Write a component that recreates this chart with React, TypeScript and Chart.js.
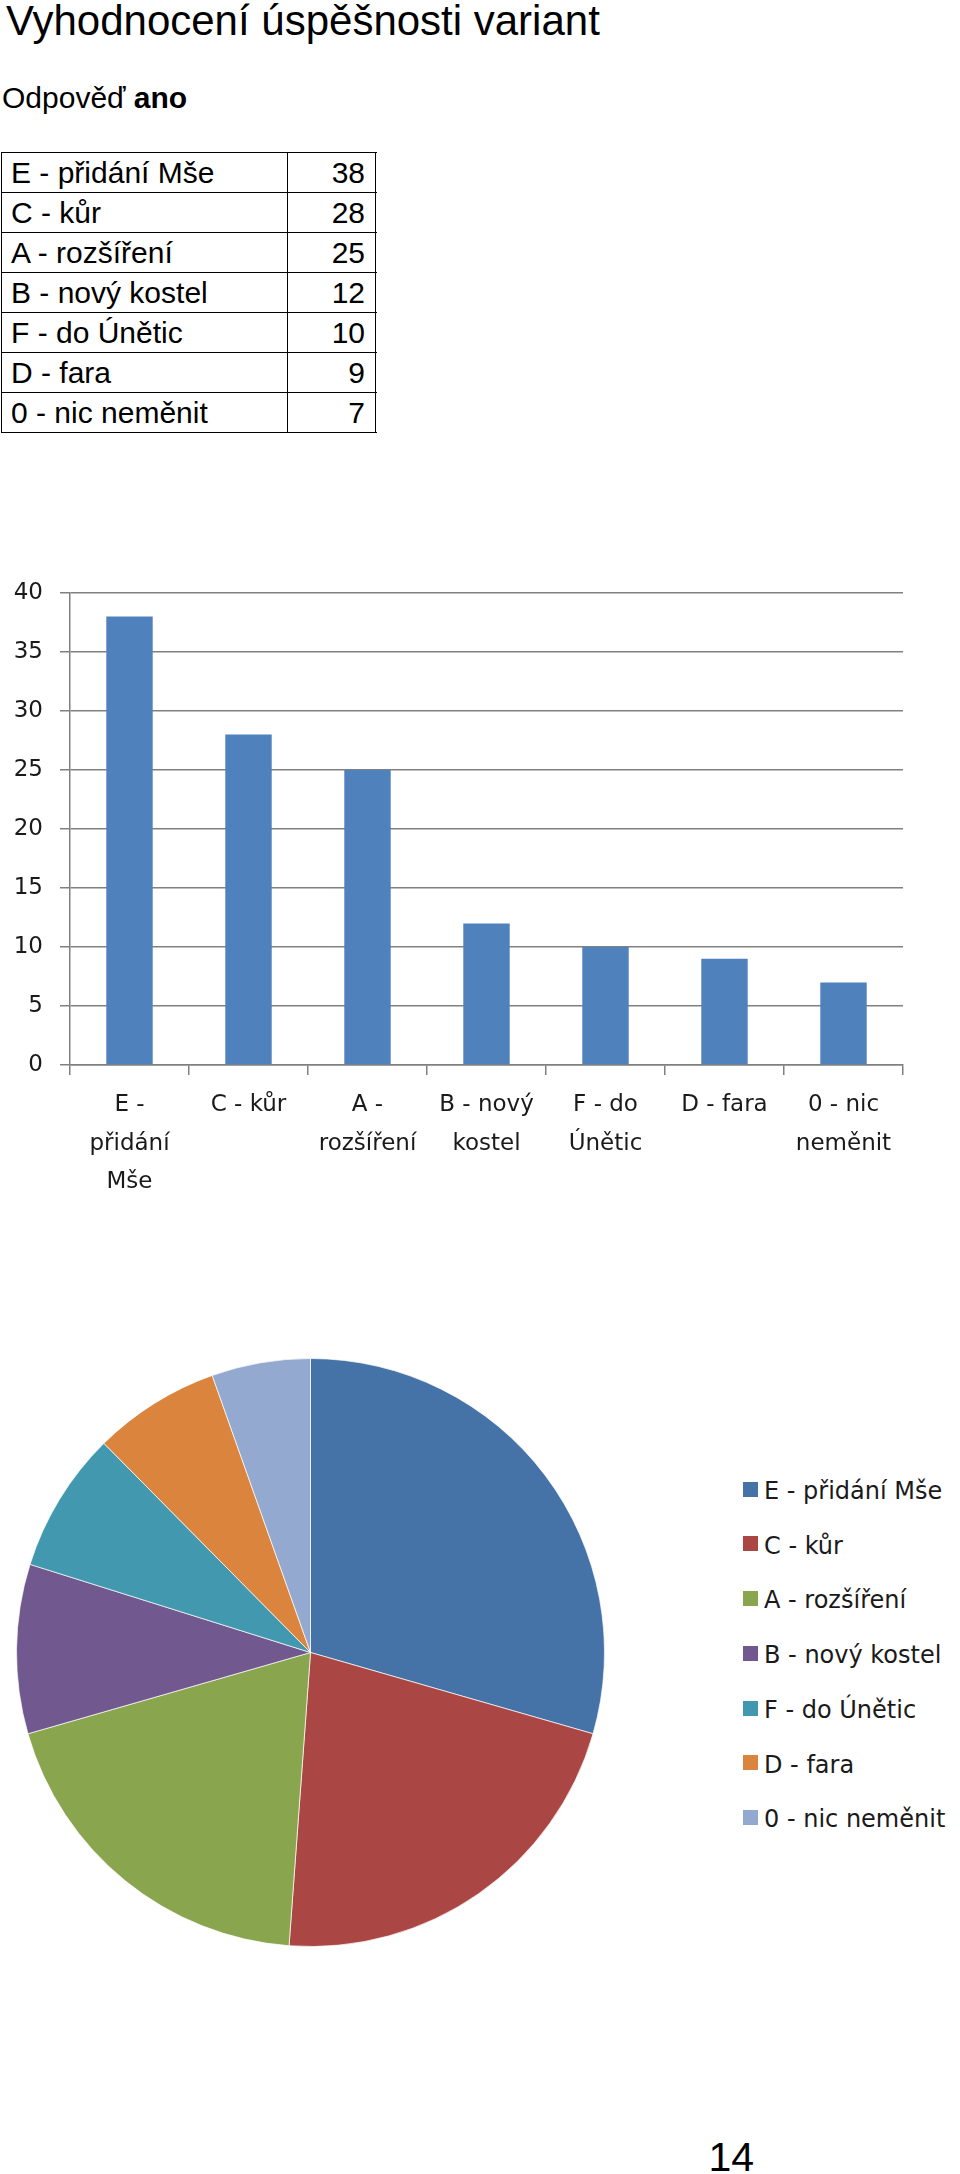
import React, { useEffect, useRef } from "react";
import { Chart, registerables } from "chart.js";

Chart.register(...registerables);

// ---------- data ----------
const TITLE = "Vyhodnocení úspěšnosti variant";
const SUBTITLE_PREFIX = "Odpověď ";
const SUBTITLE_BOLD = "ano";
const PAGE_NUMBER = "14";

const categories = [
  "E - přidání Mše",
  "C - kůr",
  "A - rozšíření",
  "B - nový kostel",
  "F - do Únětic",
  "D - fara",
  "0 - nic neměnit",
];
const values = [38, 28, 25, 12, 10, 9, 7];
const axisLabelLines = [
  ["E -", "přidání", "Mše"],
  ["C - kůr"],
  ["A -", "rozšíření"],
  ["B - nový", "kostel"],
  ["F - do", "Únětic"],
  ["D - fara"],
  ["0 - nic", "neměnit"],
];
const yMin = 0;
const yMax = 40;
const yStep = 5;

const barColor = "#4F81BD";
const pieColors = ["#4572A7", "#AA4643", "#89A54E", "#71588F", "#4198AF", "#DB843D", "#93A9CF"];

// ---------- component ----------
const SANS = '"Liberation Sans", Arial, Helvetica, sans-serif';
const CHART_FONT = '"DejaVu Sans", "Noto Sans", sans-serif';

export default function App() {
  const barRef = useRef<HTMLCanvasElement | null>(null);
  const pieRef = useRef<HTMLCanvasElement | null>(null);

  useEffect(() => {
    const grid = "#808080";
    const bar = new Chart(barRef.current as HTMLCanvasElement, {
      type: "bar",
      data: {
        labels: categories,
        datasets: [
          {
            data: values,
            backgroundColor: barColor,
            borderWidth: 0,
            barPercentage: 0.39,
            categoryPercentage: 1,
          },
        ],
      },
      options: {
        responsive: false,
        animation: false,
        devicePixelRatio: 1,
        layout: { padding: { top: 23, right: 57, left: 0, bottom: 0 } },
        plugins: { legend: { display: false }, tooltip: { enabled: false }, title: { display: false } },
        scales: {
          x: {
            grid: {
              display: true,
              drawOnChartArea: false,
              drawTicks: true,
              tickLength: 10,
              color: grid,
              lineWidth: 1.5,
              offset: true,
            },
            border: { display: true, color: grid, width: 1.5 },
            ticks: {
              autoSkip: false,
              maxRotation: 0,
              minRotation: 0,
              padding: 11,
              color: "#1a1a1a",
              font: { family: CHART_FONT, size: 23, lineHeight: 38.5 / 23 },
              callback: (_v: any, i: number) => axisLabelLines[i],
            },
            afterFit: (scale: any) => {
              scale.height = 145;
              scale.paddingLeft = 0;
              scale.paddingRight = 0;
            },
          },
          y: {
            min: yMin,
            max: yMax,
            grid: {
              color: grid,
              lineWidth: 1.5,
              drawTicks: true,
              tickLength: 10,
            },
            border: { display: true, color: grid, width: 1.5 },
            ticks: {
              stepSize: yStep,
              padding: 17,
              color: "#1a1a1a",
              font: { family: CHART_FONT, size: 23 },
            },
            afterFit: (scale: any) => {
              scale.width = 70;
              scale.paddingTop = 0;
              scale.paddingBottom = 0;
            },
          },
        },
      },
    });

    const pie = new Chart(pieRef.current as HTMLCanvasElement, {
      type: "pie",
      data: {
        labels: categories,
        datasets: [
          {
            data: values,
            backgroundColor: pieColors,
            borderColor: "rgba(255,255,255,0.7)",
            borderWidth: 1,
          },
        ],
      },
      options: {
        responsive: false,
        animation: false,
        devicePixelRatio: 1,
        layout: { padding: 0 },
        plugins: { legend: { display: false }, tooltip: { enabled: false } },
      },
    });

    return () => {
      bar.destroy();
      pie.destroy();
    };
  }, []);

  const rowTop = (i: number) => 152 + 40 * i;

  return (
    <div
      style={{
        position: "absolute",
        left: 0,
        top: 0,
        width: 960,
        height: 2174,
        overflow: "hidden",
        background: "#fff",
        color: "#000",
        fontFamily: SANS,
      }}
    >
      <div style={{ position: "absolute", left: 6, top: -0.5, fontSize: 42, lineHeight: "42px", whiteSpace: "nowrap" }}>
        {TITLE}
      </div>
      <div style={{ position: "absolute", left: 2, top: 82.6, fontSize: 30, lineHeight: "30px", whiteSpace: "nowrap" }}>
        {SUBTITLE_PREFIX}
        <b>{SUBTITLE_BOLD}</b>
      </div>

      {/* table */}
      {Array.from({ length: categories.length + 1 }).map((_, i) => (
        <div
          key={"h" + i}
          style={{ position: "absolute", left: 1, top: rowTop(i) - 0.5, width: 375.5, height: 1, background: "#000" }}
        />
      ))}
      {[1, 287, 375].map((x, i) => (
        <div
          key={"v" + i}
          style={{ position: "absolute", left: x, top: rowTop(0) - 0.5, width: 1, height: 40 * categories.length + 1, background: "#000" }}
        />
      ))}
      {categories.map((c, i) => (
        <React.Fragment key={"r" + i}>
          <div style={{ position: "absolute", left: 11, top: rowTop(i) + 6.2, fontSize: 30, lineHeight: "30px", whiteSpace: "nowrap" }}>
            {c}
          </div>
          <div
            style={{
              position: "absolute",
              left: 288,
              width: 77,
              textAlign: "right",
              top: rowTop(i) + 6.2,
              fontSize: 30,
              lineHeight: "30px",
              whiteSpace: "nowrap",
            }}
          >
            {values[i]}
          </div>
        </React.Fragment>
      ))}

      {/* bar chart */}
      <canvas
        ref={barRef}
        width={960}
        height={640}
        style={{ position: "absolute", left: 0, top: 570, width: 960, height: 640 }}
      />

      {/* pie chart */}
      <canvas
        ref={pieRef}
        width={589}
        height={589}
        style={{ position: "absolute", left: 16, top: 1358, width: 589, height: 589 }}
      />

      {/* pie legend */}
      {categories.map((c, i) => (
        <React.Fragment key={"l" + i}>
          <div
            style={{
              position: "absolute",
              left: 743,
              top: 1481.7 + 54.7 * i,
              width: 15,
              height: 15,
              background: pieColors[i],
            }}
          />
          <div
            style={{
              position: "absolute",
              left: 764,
              top: 1479 + 54.7 * i,
              fontFamily: CHART_FONT,
              fontSize: 24,
              lineHeight: "24px",
              color: "#1a1a1a",
              whiteSpace: "nowrap",
            }}
          >
            {c}
          </div>
        </React.Fragment>
      ))}

      <div style={{ position: "absolute", left: 708.5, top: 2137, fontSize: 41, lineHeight: "41px", whiteSpace: "nowrap" }}>
        {PAGE_NUMBER}
      </div>
    </div>
  );
}
